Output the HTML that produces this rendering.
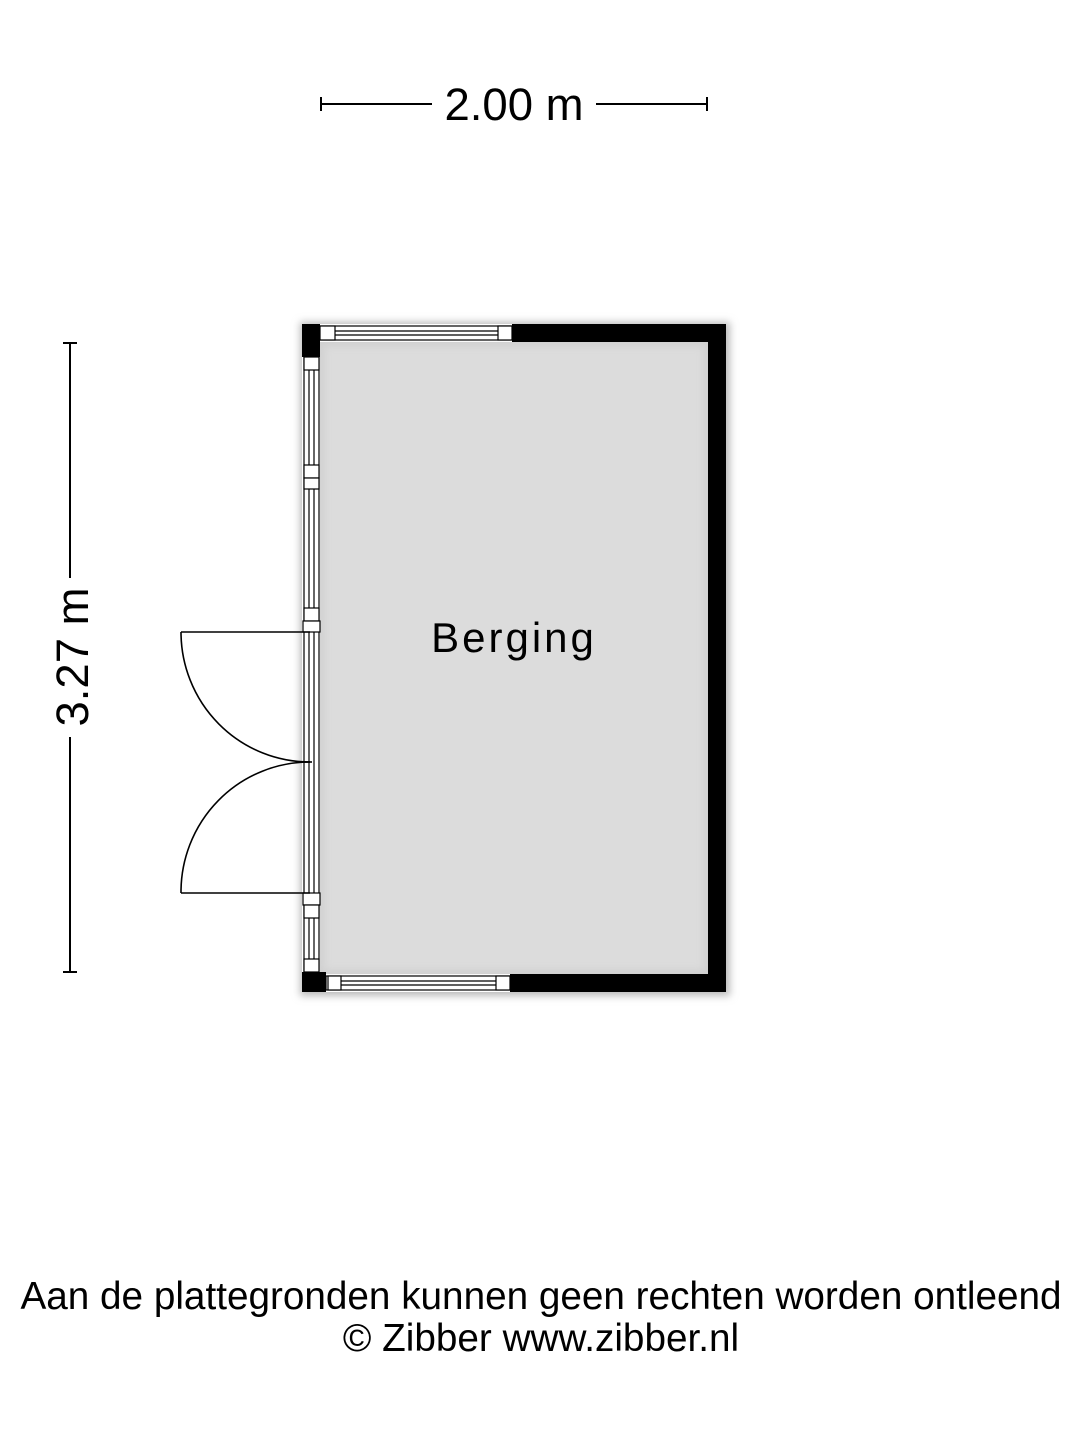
<!DOCTYPE html>
<html><head><meta charset="utf-8"><style>
html,body{margin:0;padding:0;background:#fff;width:1080px;height:1440px;overflow:hidden}
svg{display:block}
</style></head><body>
<svg width="1080" height="1440" viewBox="0 0 1080 1440" xmlns="http://www.w3.org/2000/svg">
<defs>
<filter id="sh" x="-10%" y="-10%" width="120%" height="120%"><feGaussianBlur stdDeviation="4"/></filter>
</defs>
<g stroke="#000" stroke-width="2">
<line x1="321" y1="104" x2="432" y2="104"/><line x1="596" y1="104" x2="707" y2="104"/>
<line x1="321" y1="97" x2="321" y2="111"/><line x1="707" y1="97" x2="707" y2="111"/>
<line x1="70" y1="343" x2="70" y2="578"/><line x1="70" y1="737" x2="70" y2="972"/>
<line x1="63" y1="343" x2="77" y2="343"/><line x1="63" y1="972" x2="77" y2="972"/>
</g>
<text x="514" y="120" font-family="Liberation Sans, sans-serif" font-size="45.5" text-anchor="middle">2.00 m</text>
<text transform="translate(88,657) rotate(-90)" font-family="Liberation Sans, sans-serif" font-size="45.5" text-anchor="middle">3.27 m</text>
<rect x="300" y="322" width="430" height="674" fill="#bbb" filter="url(#sh)"/>
<rect x="302" y="324" width="424" height="668" fill="#fff"/>
<rect x="320" y="342" width="388" height="632" fill="#d0d0d0"/>
<rect x="324" y="346" width="380" height="624" fill="#dcdcdc" filter="url(#sh)"/>
<g fill="#000">
<rect x="512" y="324" width="214" height="18"/>
<rect x="708" y="324" width="18" height="668"/>
<rect x="510" y="974" width="216" height="18"/>
<rect x="302" y="324" width="18" height="33"/>
<rect x="302" y="972" width="24" height="20"/>
</g>
<g fill="#fff" stroke="#000" stroke-width="1.2">
<rect x="320" y="326" width="192" height="14"/>
<rect x="320" y="326" width="15" height="14"/>
<rect x="498" y="326" width="14" height="14"/>
<line x1="335" y1="331" x2="498" y2="331"/><line x1="335" y1="335" x2="498" y2="335"/>
<rect x="326" y="976" width="184" height="14"/>
<rect x="328" y="976" width="13" height="14"/>
<rect x="496" y="976" width="14" height="14"/>
<line x1="341" y1="981" x2="496" y2="981"/><line x1="341" y1="985" x2="496" y2="985"/>
<rect x="304" y="357" width="15" height="615"/>
<rect x="304" y="357" width="15" height="13"/>
<rect x="304" y="465" width="15" height="13"/>
<rect x="304" y="478" width="15" height="11"/>
<rect x="304" y="608" width="15" height="13"/>
<rect x="303" y="621" width="17" height="11"/>
<rect x="303" y="893" width="17" height="12"/>
<rect x="304" y="905" width="15" height="13"/>
<rect x="304" y="959" width="15" height="13"/>
</g>
<g stroke="#000" stroke-width="1.2">
<line x1="309" y1="370" x2="309" y2="465"/><line x1="314" y1="370" x2="314" y2="465"/>
<line x1="309" y1="489" x2="309" y2="608"/><line x1="314" y1="489" x2="314" y2="608"/>
<line x1="309" y1="632" x2="309" y2="893"/><line x1="314" y1="632" x2="314" y2="893"/>
<line x1="309" y1="918" x2="309" y2="959"/><line x1="314" y1="918" x2="314" y2="959"/>
</g>
<g stroke="#000" stroke-width="1.6" fill="none">
<line x1="181" y1="632" x2="310" y2="632"/>
<line x1="181" y1="893" x2="310" y2="893"/>
<line x1="304" y1="762" x2="312" y2="762"/>
<path d="M181 632 A129 130 0 0 0 310 762"/>
<path d="M181 893 A129 130 0 0 1 310 762"/>
</g>
<text x="514" y="652" font-family="Liberation Sans, sans-serif" font-size="42" text-anchor="middle" letter-spacing="3">Berging</text>
<text x="541" y="1309" font-family="Liberation Sans, sans-serif" font-size="38.7" text-anchor="middle">Aan de plattegronden kunnen geen rechten worden ontleend</text>
<text x="541" y="1351" font-family="Liberation Sans, sans-serif" font-size="38.7" text-anchor="middle">© Zibber www.zibber.nl</text>
</svg>
</body></html>
